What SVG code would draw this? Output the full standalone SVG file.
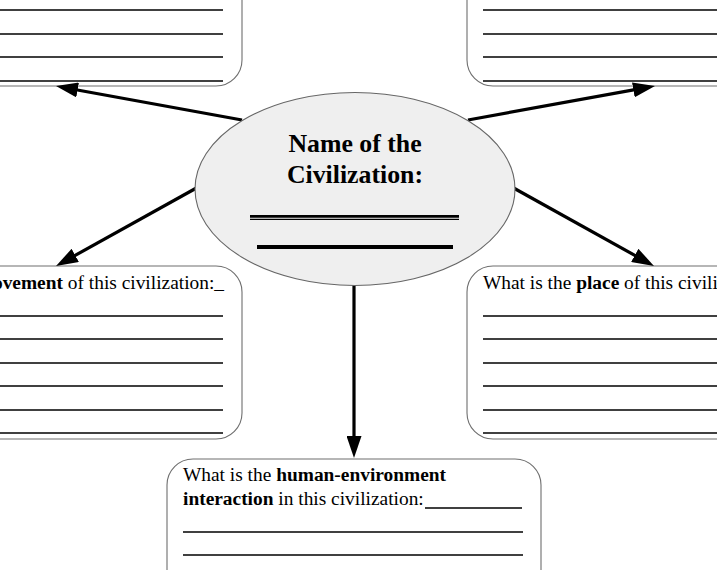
<svg xmlns="http://www.w3.org/2000/svg" width="717" height="570" viewBox="0 0 717 570">
  <defs>
    <style>
      .box { fill: #ffffff; stroke: #6e6e6e; stroke-width: 1.1; }
      .rule { stroke: #000000; stroke-width: 1.3; }
      .conn { stroke: #000000; stroke-width: 3.2; fill: none; }
      .txt { font-family: "Liberation Serif", "Times New Roman", serif; font-size: 19.4px; fill: #000000; }
      .b { font-weight: bold; }
      .title { font-family: "Liberation Serif", "Times New Roman", serif; font-size: 25.8px; font-weight: bold; fill: #000000; text-anchor: middle; }
    </style>
    <marker id="arrow" markerUnits="userSpaceOnUse" markerWidth="22" markerHeight="15" refX="10" refY="7.5" orient="auto">
      <path d="M0,0 L22,7.5 L0,15 z" fill="#000000"/>
    </marker>
  </defs>
  <rect width="717" height="570" fill="#ffffff"/>

  <g id="box-top-left">
    <rect class="box" x="-30" y="-30" width="272" height="116" rx="26" ry="26"/>
    <line class="rule" x1="0" y1="10" x2="223" y2="10"/>
    <line class="rule" x1="0" y1="34" x2="223" y2="34"/>
    <line class="rule" x1="0" y1="57" x2="223" y2="57"/>
    <line class="rule" x1="0" y1="81" x2="223" y2="81"/>
  </g>

  <g id="box-top-right">
    <rect class="box" x="467" y="-30" width="290" height="116" rx="26" ry="26"/>
    <line class="rule" x1="483" y1="10" x2="717" y2="10"/>
    <line class="rule" x1="483" y1="34" x2="717" y2="34"/>
    <line class="rule" x1="483" y1="57" x2="717" y2="57"/>
    <line class="rule" x1="483" y1="81" x2="717" y2="81"/>
  </g>

  <g id="box-movement">
    <rect class="box" x="-30" y="266" width="272" height="173" rx="26" ry="26"/>
    <text class="txt" x="224" y="289" text-anchor="end">What is the <tspan class="b">movement</tspan> of this civilization:_</text>
    <line class="rule" x1="0" y1="316" x2="223" y2="316"/>
    <line class="rule" x1="0" y1="339" x2="223" y2="339"/>
    <line class="rule" x1="0" y1="363" x2="223" y2="363"/>
    <line class="rule" x1="0" y1="386" x2="223" y2="386"/>
    <line class="rule" x1="0" y1="410" x2="223" y2="410"/>
    <line class="rule" x1="0" y1="433" x2="223" y2="433"/>
  </g>

  <g id="box-place">
    <rect class="box" x="467" y="266" width="290" height="173" rx="26" ry="26"/>
    <text class="txt" x="483" y="289">What is the <tspan class="b">place</tspan> of this civilization:_</text>
    <line class="rule" x1="483" y1="316" x2="717" y2="316"/>
    <line class="rule" x1="483" y1="339" x2="717" y2="339"/>
    <line class="rule" x1="483" y1="363" x2="717" y2="363"/>
    <line class="rule" x1="483" y1="386" x2="717" y2="386"/>
    <line class="rule" x1="483" y1="410" x2="717" y2="410"/>
    <line class="rule" x1="483" y1="433" x2="717" y2="433"/>
  </g>

  <g id="box-hei">
    <rect class="box" x="167" y="459" width="374" height="150" rx="26" ry="26"/>
    <text class="txt" x="183" y="481">What is the <tspan class="b">human-environment</tspan></text>
    <text class="txt" x="183" y="505"><tspan class="b">interaction</tspan> in this civilization:</text>
    <line class="rule" x1="425" y1="508" x2="522" y2="508"/>
    <line class="rule" x1="183" y1="532" x2="523" y2="532"/>
    <line class="rule" x1="183" y1="555" x2="523" y2="555"/>
  </g>

  <g id="connectors">
    <line class="conn" x1="242" y1="120" x2="67.8" y2="88.2" marker-end="url(#arrow)"/>
    <line class="conn" x1="468" y1="120" x2="643.2" y2="88.1" marker-end="url(#arrow)"/>
    <line class="conn" x1="200" y1="186" x2="66.5" y2="260.2" marker-end="url(#arrow)"/>
    <line class="conn" x1="510" y1="186" x2="643.5" y2="260.2" marker-end="url(#arrow)"/>
    <line class="conn" x1="354" y1="280" x2="354" y2="446" marker-end="url(#arrow)"/>
  </g>

  <g id="center-node">
    <ellipse cx="355" cy="189" rx="160" ry="96.5" fill="#efefef" stroke="#666666" stroke-width="1.1"/>
    <text class="title" x="355" y="152">Name of the</text>
    <text class="title" x="355" y="183">Civilization:</text>
    <line x1="250" y1="216.3" x2="459" y2="216.3" stroke="#000000" stroke-width="2.7"/>
    <line x1="250" y1="219.4" x2="459" y2="219.4" stroke="#000000" stroke-width="1.3"/>
    <line x1="257" y1="247" x2="453" y2="247" stroke="#000000" stroke-width="3.8"/>
  </g>
</svg>
